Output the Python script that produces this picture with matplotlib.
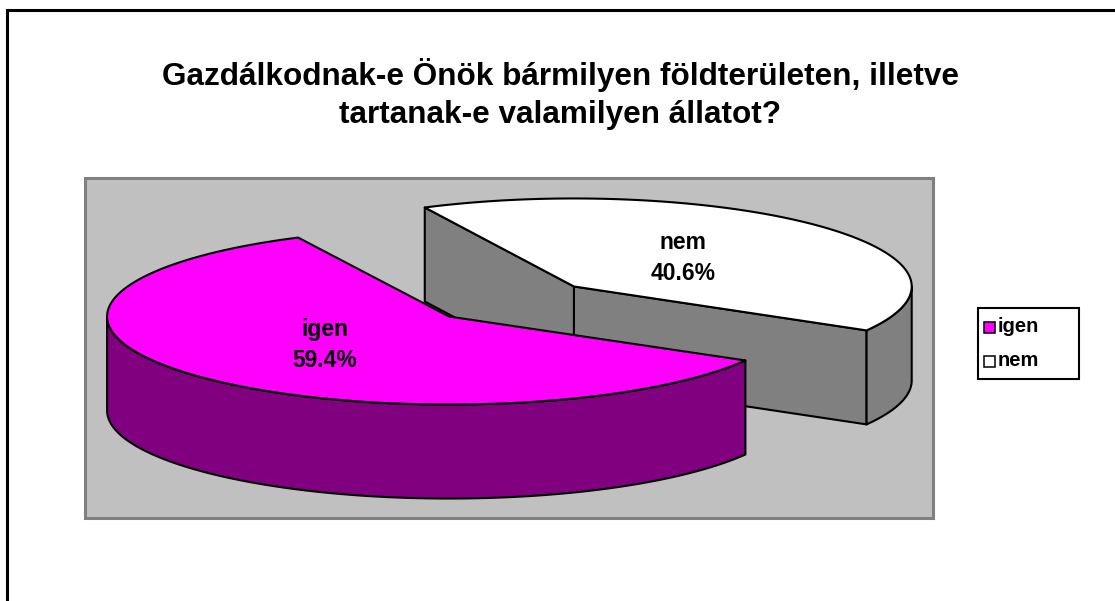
import numpy as np
import matplotlib
matplotlib.use("Agg")
import matplotlib.pyplot as plt
from matplotlib.patches import Polygon, Rectangle

# ---- data ----
categories = ["igen", "nem"]
values = [59.4, 40.6]
top_colors = ["#FF00FF", "#FFFFFF"]
side_colors = ["#800080", "#808080"]
title = "Gazdálkodnak-e Önök bármilyen földterületen, illetve\ntartanak-e valamilyen állatot?"

# ---- layout (pixel space) ----
W, H = 1115, 601
FONT = ["Liberation Sans", "DejaVu Sans"]
cx, cy = 511.5, 301.5      # pie centre
rx, ry = 342.0, 88.0       # ellipse radii
persp = 0.018              # horizontal shrink per unit of backward offset
depth = 94.0               # thickness
explode = 0.25             # fraction of radius
start_angle = 116.2        # degrees, y-up, counter-clockwise
label_frac = 0.47
label_dx, label_dy = -7, 0

fig = plt.figure(figsize=(W / 100, H / 100), dpi=100)
ax = fig.add_axes([0, 0, 1, 1])
ax.set_xlim(0, W)
ax.set_ylim(H, 0)
ax.axis("off")

# outer frame (left and top visible)
ax.plot([7, 7, W + 5], [H + 5, 10, 10], color="black", lw=2.2, solid_joinstyle="miter")

# plot area
ax.add_patch(Rectangle((85, 178), 848, 340, facecolor="#C0C0C0",
                       edgecolor="#808080", lw=2.2, zorder=1))

ax.text(560, 94, title, ha="center", va="center", fontsize=22.7, fontweight="bold",
        family=FONT, linespacing=1.36, zorder=5)

total = sum(values)
spans = [v / total * 360.0 for v in values]
starts = [start_angle + sum(spans[:i]) for i in range(len(values))]


def pt(x0, y0, r, t_deg, dy=0.0):
    t = np.radians(t_deg)
    return x0 + r * np.cos(t), y0 - ry * np.sin(t) + dy


def arc(x0, y0, r, a0, a1, dy=0.0, n=200):
    ts = np.linspace(a0, a1, n)
    xs, ys = pt(x0, y0, r, ts, dy)
    return np.column_stack([xs, ys])


slices = []
for i, v in enumerate(values):
    a0 = starts[i]
    a1 = a0 + spans[i]
    b = np.radians((a0 + a1) / 2)
    sx = cx + explode * rx * np.cos(b)
    sy = cy - explode * ry * np.sin(b)
    r = rx * (1 - persp * max(0.0, cy - sy) / (explode * ry))
    slices.append((i, a0, a1, sx, sy, r))

# draw back slices first (those whose centre is higher on screen)
order = sorted(slices, key=lambda s: s[4])
z = 2
edge_kw = dict(edgecolor="black", lw=1.5, joinstyle="round")
for (i, a0, a1, sx, sy, r) in order:
    side = side_colors[i]
    # radial faces
    for ang, nrm in ((a0, a0 - 90), (a1, a1 + 90)):
        if np.sin(np.radians(nrm)) < 0:
            px, py = pt(sx, sy, r, ang)
            poly = [(sx, sy), (px, py), (px, py + depth), (sx, sy + depth)]
            ax.add_patch(Polygon(poly, closed=True, facecolor=side, zorder=z, **edge_kw))
            z += 1
    # outer wall: front half (180..360 mod 360)
    for k in range(-1, 3):
        lo = max(a0, 180 + 360 * k)
        hi = min(a1, 360 + 360 * k)
        if hi > lo:
            top = arc(sx, sy, r, lo, hi)
            bot = arc(sx, sy, r, hi, lo, depth)
            ax.add_patch(Polygon(np.vstack([top, bot]), closed=True,
                                 facecolor=side, zorder=z, **edge_kw))
            z += 1
    # top face
    topface = np.vstack([[sx, sy], arc(sx, sy, r, a0, a1)])
    ax.add_patch(Polygon(topface, closed=True, facecolor=top_colors[i], zorder=z, **edge_kw))
    z += 1

# labels
for (i, a0, a1, sx, sy, r) in slices:
    b = np.radians((a0 + a1) / 2)
    lx = sx + label_frac * r * np.cos(b) + label_dx
    ly = sy - label_frac * ry * np.sin(b) + label_dy
    ax.text(lx, ly, f"{categories[i]}\n{values[i]:.1f}%", ha="center", va="center",
            fontsize=16.5, fontweight="bold", family=FONT, linespacing=1.45, zorder=50)

# legend
lx0, ly0, lw_, lh_ = 978, 308, 101, 71
ax.add_patch(Rectangle((lx0, ly0), lw_, lh_, facecolor="white", edgecolor="black",
                       lw=1.5, zorder=40))
for i, cat in enumerate(categories):
    yy = ly0 + 19 + i * 34
    ax.add_patch(Rectangle((lx0 + 6, yy - 5.5), 11, 11, facecolor=top_colors[i],
                           edgecolor="black", lw=1.1, zorder=41))
    ax.text(lx0 + 20, yy, cat, ha="left", va="center", fontsize=14.5,
            fontweight="bold", family=FONT, zorder=41)

fig.savefig("out.png", dpi=100)
